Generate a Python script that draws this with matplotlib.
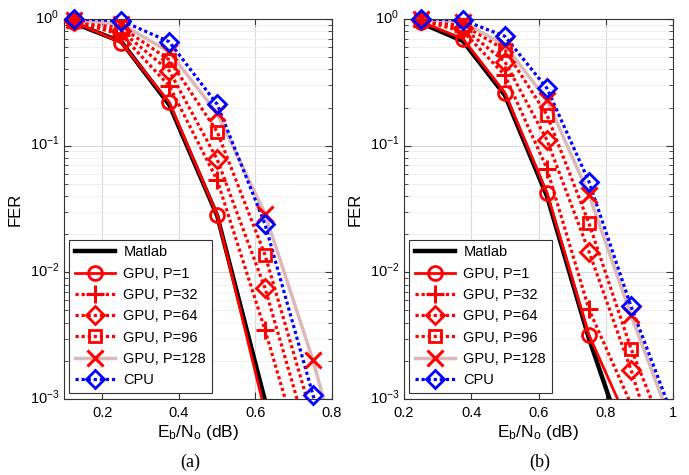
import numpy as np
import matplotlib.pyplot as plt
from matplotlib.lines import Line2D
from matplotlib.ticker import FixedLocator, FuncFormatter, LogLocator
from matplotlib.transforms import ScaledTranslation

plt.rcParams['font.family'] = ['Liberation Sans', 'DejaVu Sans']
plt.rcParams['mathtext.fontset'] = 'custom'
plt.rcParams['mathtext.rm'] = 'Liberation Sans'
plt.rcParams['mathtext.it'] = 'Liberation Sans:italic'

labels = ['Matlab', 'GPU, P=1', 'GPU, P=32', 'GPU, P=64', 'GPU, P=96', 'GPU, P=128', 'CPU']
nan = np.nan

# panel (a)
ebno_a = [0.125, 0.25, 0.375, 0.5, 0.625, 0.75, 0.875]
matlab_a = [0.93, 0.66, 0.21, 0.028, 9.7e-4, nan, nan]
p1_a = [0.95, 0.65, 0.22, 0.0284, 7.9e-4, nan, nan]
p32_a = [0.96, 0.75, 0.296, 0.0536, 0.0035, 1.8e-4, nan]
p64_a = [0.97, 0.80, 0.39, 0.078, 0.0075, 3.7e-4, nan]
p96_a = [0.98, 0.86, 0.475, 0.129, 0.0137, 6.9e-4, nan]
p128_a = [0.99, 0.91, 0.55, 0.18, 0.029, 0.00203, 8.5e-5]
cpu_a = [1.0, 0.97, 0.66, 0.212, 0.024, 0.00108, 5e-5]

# panel (b)
ebno_b = [0.25, 0.375, 0.5, 0.625, 0.75, 0.875, 1.0]
matlab_b = [0.93, 0.67, 0.25, 0.040, 0.0030, 3.2e-4, nan]
p1_b = [0.95, 0.70, 0.262, 0.0426, 0.0032, 5.8e-4, nan]
p32_b = [0.97, 0.80, 0.36, 0.066, 0.0051, 9.1e-4, nan]
p64_b = [0.98, 0.85, 0.46, 0.111, 0.0146, 0.0017, 1.5e-4]
p96_b = [0.99, 0.90, 0.57, 0.175, 0.0244, 0.0025, 3.7e-4]
p128_b = [1.0, 0.95, 0.62, 0.23, 0.041, 0.0046, 6e-4]
cpu_b = [1.0, 0.98, 0.73, 0.284, 0.052, 0.0054, 7.2e-4]

dots = (0, (1, 0.9))
styles = [
    dict(line='black', ls='-', lw=3.2, marker='None', ms=0, mew=0, mec='black'),
    dict(line='red', ls='-', lw=2.0, marker='o', ms=10, mew=2.0, mec='red'),
    dict(line='red', ls=dots, lw=2.3, marker='+', ms=13, mew=2.2, mec='red'),
    dict(line='red', ls=dots, lw=2.3, marker='D', ms=9, mew=2.0, mec='red'),
    dict(line='red', ls=dots, lw=2.3, marker='s', ms=9, mew=2.0, mec='red'),
    dict(line='#dcb8b8', ls='-', lw=2.5, marker='x', ms=12, mew=2.2, mec='red'),
    dict(line='blue', ls=dots, lw=2.3, marker='D', ms=9, mew=2.0, mec='blue'),
]


def draw_panel(ax, x, series, xlim, xticks):
    x = np.array(x)
    for y, st in zip(series, styles):
        y = np.array(y, dtype=float)
        ax.plot(x, y, color=st['line'], ls=st['ls'], lw=st['lw'])
        inside = y >= 1e-3
        if st['marker'] != 'None':
            ax.plot(x[inside], y[inside], ls='none', marker=st['marker'], ms=st['ms'],
                    mfc='none', mec=st['mec'], mew=st['mew'], clip_on=False, zorder=3)
    ax.set_yscale('log')
    ax.set_ylim(1e-3, 1)
    ax.set_xlim(*xlim)
    ax.xaxis.set_major_locator(FixedLocator(xticks))
    ax.xaxis.set_major_formatter(FuncFormatter(lambda v, p: '%g' % v))
    ax.yaxis.set_minor_locator(LogLocator(base=10, subs=np.arange(2, 10)))
    ax.set_axisbelow(True)
    ax.grid(which='major', color='#dadada', lw=0.8)
    ax.grid(which='minor', axis='y', color='#ececec', lw=0.6)
    ax.tick_params(which='both', direction='in', top=True, right=True,
                   labelsize=10.5, color='#333333')
    ax.tick_params(which='major', length=5)
    ax.tick_params(which='minor', length=3)
    ax.tick_params(axis='x', pad=5)
    for s in ax.spines.values():
        s.set_color('#333333')
        s.set_linewidth(0.8)
    ax.set_xlabel(r'E$_\mathregular{b}$/N$_\mathregular{o}$ (dB)', fontsize=12.5, labelpad=2)
    ax.set_ylabel('FER', fontsize=12, labelpad=5)

    handles = [Line2D([], [], color=st['line'], ls=st['ls'], lw=st['lw'],
                      marker=st['marker'], ms=st['ms'], mfc='none',
                      mec=st['mec'], mew=st['mew']) for st in styles]
    leg = ax.legend(handles, labels, loc='lower left', bbox_to_anchor=(0.02, 0.016),
                    borderaxespad=0, fontsize=10.5, handlelength=2.7, labelspacing=0.5,
                    handletextpad=0.6, fancybox=False, framealpha=1,
                    edgecolor='#333333', borderpad=0.4)
    leg.get_frame().set_linewidth(0.8)

    # keep the "10" of each label centred on its tick, exponent sticking up
    shift = ScaledTranslation(0, 0.03, ax.figure.dpi_scale_trans)
    for t in ax.yaxis.get_major_ticks():
        t.label1.set_transform(t.label1.get_transform() + shift)


fig = plt.figure(figsize=(6.89, 4.75), dpi=100)
ax_a = fig.add_axes([0.0929, 0.16, 0.389, 0.80])
ax_b = fig.add_axes([0.5864, 0.16, 0.3904, 0.80])

draw_panel(ax_a, ebno_a, [matlab_a, p1_a, p32_a, p64_a, p96_a, p128_a, cpu_a],
           (0.1, 0.8), [0.2, 0.4, 0.6, 0.8])
draw_panel(ax_b, ebno_b, [matlab_b, p1_b, p32_b, p64_b, p96_b, p128_b, cpu_b],
           (0.2, 1.0), [0.2, 0.4, 0.6, 0.8, 1.0])

fig.text(0.276, 0.008, '(a)', family='Liberation Serif', fontsize=13, ha='center', va='bottom')
fig.text(0.784, 0.008, '(b)', family='Liberation Serif', fontsize=13, ha='center', va='bottom')

fig.savefig('out.png', dpi=100)
